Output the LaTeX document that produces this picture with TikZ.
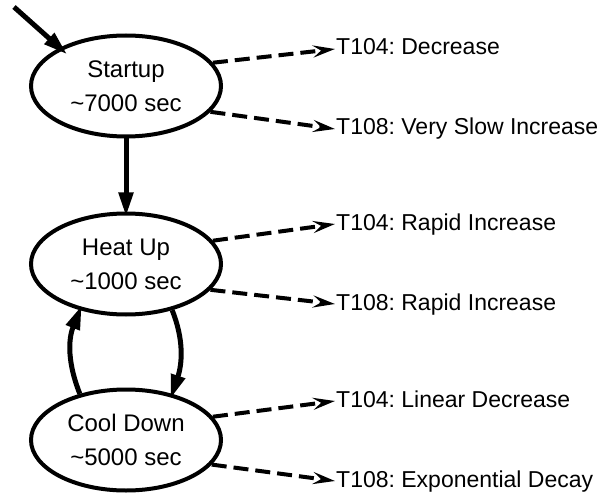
\documentclass[tikz,border=0pt]{standalone}
\usepackage{fontspec}
\setmainfont{Liberation Sans}
\usetikzlibrary{shapes.geometric,arrows.meta}
\frenchspacing
\begin{document}
\begin{tikzpicture}[x=1pt,y=-1pt,
 state/.style={ellipse,draw,line width=4pt,minimum width=190pt,minimum height=101pt,inner sep=0pt,align=center,font=\fontsize{24}{34}\selectfont},
 lab/.style={inner sep=1pt,font=\fontsize{23}{28}\selectfont,text height=17pt,text depth=5pt,anchor=base west},
 solidarr/.style={line width=5pt,shorten >=-5pt,-{Triangle[length=24pt,width=14pt]}},
 dasharr/.style={line width=4pt,dash pattern=on 15pt off 7pt,-{Stealth[length=22pt,width=12pt,inset=8pt]}}]
\useasboundingbox (0,0) rectangle (610,497);
\node[state] (s) at (126,86) {Startup\\\textasciitilde 7000 sec};
\node[state] (h) at (126,264) {Heat Up\\\textasciitilde 1000 sec};
\node[state] (c) at (126,440) {Cool Down\\\textasciitilde 5000 sec};
\node[lab] (s1) at (335,55) {T104: Decrease};
\node[lab] (s2) at (335,135) {T108: Very Slow Increase};
\node[lab] (h1) at (335,230) {T104: Rapid Increase};
\node[lab] (h2) at (335,310) {T108: Rapid Increase};
\node[lab] (c1) at (335,407) {T104: Linear Decrease};
\node[lab] (c2) at (335,487) {T108: Exponential Decay};
\coordinate (inc) at (14,7);
\draw[solidarr,shorten >=-10pt] (inc) -- (s.150);
\draw[solidarr] (s.south) -- (h.north);
\draw[solidarr] (c.135) .. controls +(-12,-30) and +(-12,30) .. (h.225);
\draw[solidarr] (h.-45) .. controls +(12,30) and +(10,-30) .. (c.45);
\draw[dasharr] (s.15) -- (s1.west);
\draw[dasharr] (s.-17) -- (s2.west);
\draw[dasharr] (h.15) -- (h1.west);
\draw[dasharr] (h.-17) -- (h2.west);
\draw[dasharr] (c.15) -- (c1.west);
\draw[dasharr] (c.-16) -- (c2.west);
\end{tikzpicture}
\end{document}
